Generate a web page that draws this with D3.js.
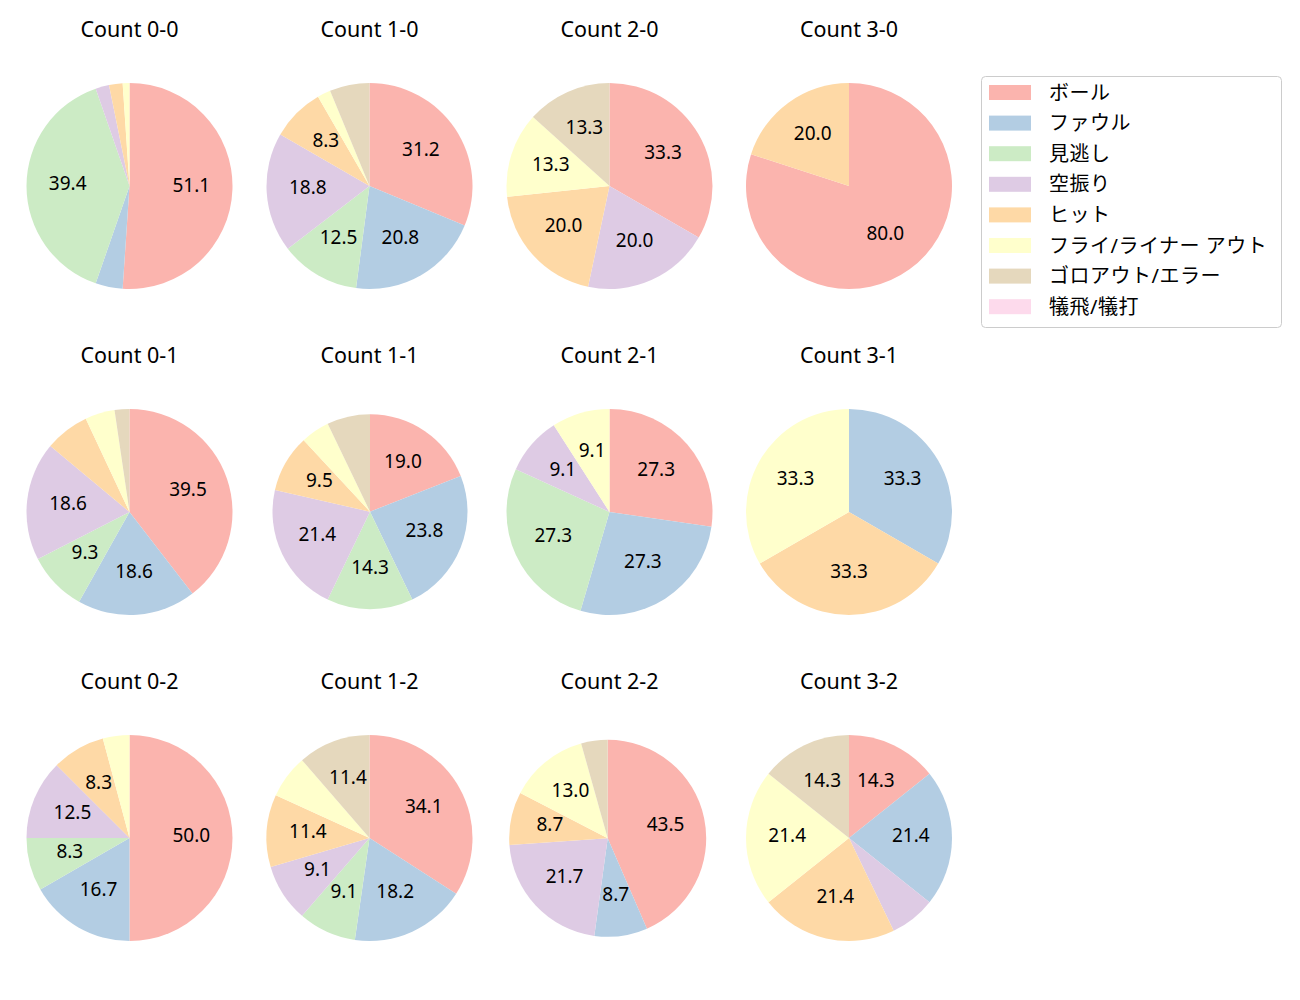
<!DOCTYPE html>
<html>
<head>
<meta charset="utf-8">
<script src="https://cdn.jsdelivr.net/npm/d3@7"></script>
<style>
  html, body { margin: 0; padding: 0; background: #ffffff; }
  svg { display: block; }
  text { font-family: "Noto Sans", "Noto Sans CJK JP", sans-serif; fill: #000000; }
</style>
</head>
<body>
<svg id="chart" width="1300" height="1000"></svg>
<script>
// ---------------- data ----------------
const categories = ["ボール", "ファウル", "見逃し", "空振り", "ヒット", "フライ/ライナー アウト", "ゴロアウト/エラー", "犠飛/犠打"];
const colors = ["#fbb4ae", "#b3cde3", "#ccebc5", "#decbe4", "#fed9a6", "#ffffcc", "#e5d8bd", "#fddaec"];
const panelTitles = ["Count 0-0", "Count 1-0", "Count 2-0", "Count 3-0",
                     "Count 0-1", "Count 1-1", "Count 2-1", "Count 3-1",
                     "Count 0-2", "Count 1-2", "Count 2-2", "Count 3-2"];
const count00 = [48, 4, 37, 2, 2, 1, 0, 0];
const count10 = [15, 10, 6, 9, 4, 1, 3, 0];
const count20 = [5, 0, 0, 3, 3, 2, 2, 0];
const count30 = [4, 0, 0, 0, 1, 0, 0, 0];
const count01 = [17, 8, 4, 8, 3, 2, 1, 0];
const count11 = [8, 10, 6, 9, 4, 2, 3, 0];
const count21 = [3, 3, 3, 1, 0, 1, 0, 0];
const count31 = [0, 1, 0, 0, 1, 1, 0, 0];
const count02 = [12, 4, 2, 3, 2, 1, 0, 0];
const count12 = [15, 8, 4, 4, 5, 3, 5, 0];
const count22 = [10, 2, 0, 5, 2, 3, 1, 0];
const count32 = [2, 3, 0, 1, 3, 3, 2, 0];
const panelValues = [count00, count10, count20, count30,
                     count01, count11, count21, count31,
                     count02, count12, count22, count32];
const labelThreshold = 8; // percent; smaller wedges carry no label

// ---------------- layout ----------------
const colX = [129.5, 369.5, 609.5, 849];
const rowY = [186, 512, 838];
const baseR = 103;
// a couple of panels are drawn slightly smaller in the reference
const panelAdjust = { 5: { r: 97.5, dx: 0.5, dy: -0.3 }, 10: { r: 98.5, dx: -1.8, dy: 0.3 } };
const titleOffset = -149.5; // baseline of title relative to pie center
const labelSize = 19;

const svg = d3.select("#chart");
const color = d3.scaleOrdinal().domain(categories).range(colors);
const pie = d3.pie().sort(null).value(d => d.value).startAngle(0).endAngle(2 * Math.PI);

// one decimal, ties rounded to even (as printf-style formatting does)
function fmt(p) {
  const x = p * 10;
  const f = Math.floor(x);
  let n;
  if (Math.abs(x - f - 0.5) < 1e-9) n = (f % 2 === 0) ? f : f + 1;
  else n = Math.round(x);
  return (n / 10).toFixed(1);
}

panelValues.forEach((vals, i) => {
  const col = i % 4, row = Math.floor(i / 4);
  const adj = panelAdjust[i] || { r: baseR, dx: 0, dy: 0 };
  const cx = colX[col] + adj.dx, cy = rowY[row] + adj.dy, r = adj.r;
  const total = d3.sum(vals);
  const data = vals.map((v, k) => ({ cat: categories[k], value: v }));
  const arcs = pie(data).filter(a => a.data.value > 0);
  const arc = d3.arc().innerRadius(0).outerRadius(r);

  const g = svg.append("g").attr("transform", `translate(${cx},${cy})`);
  g.selectAll("path.wedge").data(arcs).enter().append("path")
    .attr("class", "wedge")
    .attr("d", arc)
    .attr("fill", d => color(d.data.cat));

  g.selectAll("text.pct").data(arcs.filter(a => 100 * a.data.value / total >= labelThreshold))
    .enter().append("text")
    .attr("class", "pct")
    .attr("x", d => Math.sin((d.startAngle + d.endAngle) / 2) * r * 0.6)
    .attr("y", d => -Math.cos((d.startAngle + d.endAngle) / 2) * r * 0.6 + labelSize * 0.357 - 2.5)
    .attr("text-anchor", "middle")
    .style("font-size", labelSize + "px")
    .text(d => fmt(100 * d.data.value / total));

  svg.append("text")
    .attr("x", colX[col])
    .attr("y", rowY[row] + titleOffset)
    .attr("text-anchor", "middle")
    .style("font-size", "21.5px")
    .text(panelTitles[i]);
});

// ---------------- legend ----------------
const lg = svg.append("g").attr("transform", "translate(981,76)");
lg.append("rect").attr("x", 0.5).attr("y", 0.5).attr("width", 300).attr("height", 251)
  .attr("rx", 4).attr("ry", 4)
  .attr("fill", "#ffffff").attr("stroke", "#cccccc").attr("stroke-width", 1);
const items = lg.selectAll("g.item").data(categories).enter().append("g")
  .attr("class", "item")
  .attr("transform", (d, k) => `translate(0,${16.5 + k * 30.6})`);
items.append("rect").attr("x", 8).attr("y", -7.5).attr("width", 42).attr("height", 15)
  .attr("fill", d => color(d));
items.append("text").attr("x", 68).attr("y", 7)
  .style("font-size", "20px")
  .style("letter-spacing", "0.5px")
  .text(d => d);
</script>
</body>
</html>
